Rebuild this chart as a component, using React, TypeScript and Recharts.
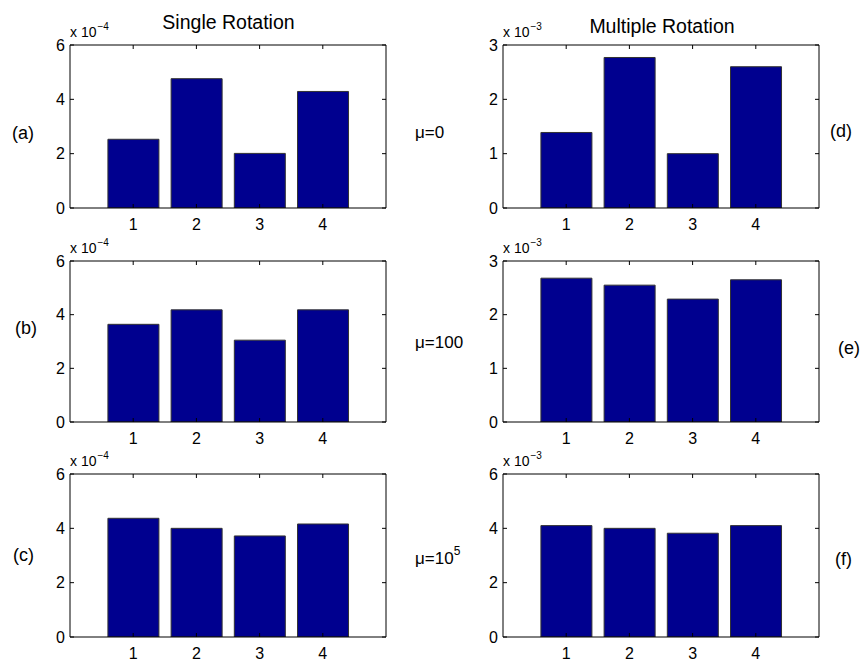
import { BarChart, Bar, XAxis, YAxis } from "recharts";

// bar heights (mantissa of the "x 10^k" axis factor)
const categories = ["1", "2", "3", "4"];
const singleMu0 = [2.53, 4.76, 2.01, 4.29];
const singleMu100 = [3.64, 4.18, 3.05, 4.18];
const singleMu1e5 = [4.37, 4.0, 3.72, 4.16];
const multiMu0 = [1.39, 2.77, 1.0, 2.6];
const multiMu100 = [2.68, 2.55, 2.29, 2.65];
const multiMu1e5 = [4.1, 4.0, 3.82, 4.1];

const ticksSix = [0, 2, 4, 6];
const ticksThree = [0, 1, 2, 3];

const PLOT_W = 316;
const PAD = PLOT_W / 10; // xlim [0 5] with bars at 1..4
const FONT = "'Liberation Sans', Arial, Helvetica, sans-serif";
const BAR_FILL = "#00008f";
const TICK_FONT = 16;

interface PanelProps {
  values: number[];
  yMax: number;
  yTicks: number[];
  left: number;
  top: number;
  plotHeight: number;
}

function Panel({ values, yMax, yTicks, left, top, plotHeight }: PanelProps) {
  const data = categories.map((name, i) => ({ name, value: values[i] }));
  const axisStyle = { stroke: "#000", strokeWidth: 1 };
  const noLabel = () => <g />;
  const tickText = { fill: "#000", fontSize: TICK_FONT, style: { fontSize: TICK_FONT } };
  return (
    <div style={{ position: "absolute", left: left - 40, top: top - 10 }}>
      <BarChart
        width={40 + PLOT_W + 10}
        height={10 + plotHeight + 30}
        data={data}
        margin={{ top: 9, right: 9, bottom: 0, left: 0 }}
        barCategoryGap="10%"
      >
        <XAxis
          xAxisId="b"
          dataKey="name"
          height={30}
          padding={{ left: PAD, right: PAD }}
          interval={0}
          tickSize={-4}
          tickMargin={15}
          fontSize={TICK_FONT}
          axisLine={axisStyle}
          tickLine={axisStyle}
          tick={tickText}
        />
        <XAxis
          xAxisId="t"
          dataKey="name"
          orientation="top"
          height={1}
          padding={{ left: PAD, right: PAD }}
          interval={0}
          tickSize={-4}
          axisLine={axisStyle}
          tickLine={axisStyle}
          tick={noLabel}
        />
        <YAxis
          yAxisId="l"
          type="number"
          domain={[0, yMax]}
          ticks={yTicks}
          allowDataOverflow
          width={40}
          tickSize={-4}
          tickMargin={9}
          fontSize={TICK_FONT}
          axisLine={axisStyle}
          tickLine={axisStyle}
          tick={tickText}
        />
        <YAxis
          yAxisId="r"
          type="number"
          orientation="right"
          domain={[0, yMax]}
          ticks={yTicks}
          allowDataOverflow
          width={1}
          tickSize={-4}
          axisLine={axisStyle}
          tickLine={axisStyle}
          tick={noLabel}
        />
        <Bar
          xAxisId="b"
          yAxisId="l"
          dataKey="value"
          fill={BAR_FILL}
          stroke="#333"
          strokeWidth={1}
          isAnimationActive={false}
        />
      </BarChart>
    </div>
  );
}

function Exponent({ x, y, power }: { x: number; y: number; power: string }) {
  return (
    <text x={x} y={y} fontSize={14}>
      x 10
      <tspan dx={1} dy={-7} fontSize={10}>
        {power}
      </tspan>
    </text>
  );
}

export default function App() {
  return (
    <div
      style={{
        position: "absolute",
        left: 0,
        top: 0,
        width: 865,
        height: 665,
        background: "#fff",
        fontFamily: FONT,
      }}
    >
      <Panel values={singleMu0} yMax={6} yTicks={ticksSix} left={70} top={45} plotHeight={163} />
      <Panel values={singleMu100} yMax={6} yTicks={ticksSix} left={70} top={261} plotHeight={161} />
      <Panel values={singleMu1e5} yMax={6} yTicks={ticksSix} left={70} top={474} plotHeight={163} />
      <Panel values={multiMu0} yMax={3} yTicks={ticksThree} left={503} top={45} plotHeight={163} />
      <Panel values={multiMu100} yMax={3} yTicks={ticksThree} left={503} top={261} plotHeight={161} />
      <Panel values={multiMu1e5} yMax={6} yTicks={ticksSix} left={503} top={474} plotHeight={163} />

      <svg
        width={865}
        height={665}
        style={{ position: "absolute", left: 0, top: 0, pointerEvents: "none" }}
        fontFamily={FONT}
        fill="#000"
      >
        <text x={228.5} y={29} fontSize={19.5} textAnchor="middle">Single Rotation</text>
        <text x={662} y={33} fontSize={19.5} textAnchor="middle">Multiple Rotation</text>

        <Exponent x={70} y={37} power="−4" />
        <Exponent x={70} y={253} power="−4" />
        <Exponent x={70} y={466} power="−4" />
        <Exponent x={503} y={37} power="−3" />
        <Exponent x={503} y={253} power="−3" />
        <Exponent x={503} y={466} power="−3" />

        <text x={12} y={139} fontSize={18}>(a)</text>
        <text x={15} y={334} fontSize={18}>(b)</text>
        <text x={13} y={561} fontSize={18}>(c)</text>
        <text x={830} y={137} fontSize={18}>(d)</text>
        <text x={838} y={354} fontSize={18}>(e)</text>
        <text x={835} y={565} fontSize={18}>(f)</text>

        <text x={415} y={138} fontSize={17}>μ=0</text>
        <text x={415} y={348} fontSize={17}>μ=100</text>
        <text x={415} y={564} fontSize={17}>
          μ=10
          <tspan dy={-9} fontSize={12}>5</tspan>
        </text>
      </svg>
    </div>
  );
}
